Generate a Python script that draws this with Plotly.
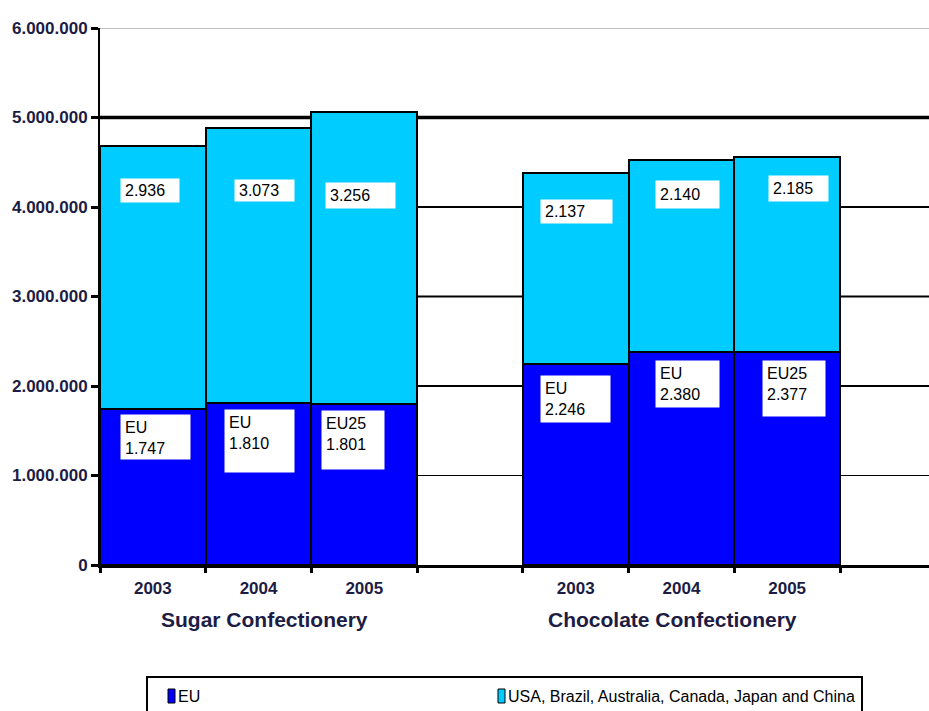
import plotly.graph_objects as go

# ---------------- data ----------------
groups = ["Sugar Confectionery", "Chocolate Confectionery"]
years = ["2003", "2004", "2005"]
eu_values = [1747000, 1810000, 1801000, 2246000, 2380000, 2377000]
other_values = [2936000, 3073000, 3256000, 2137000, 2140000, 2185000]
eu_tags = ["EU", "EU", "EU25", "EU", "EU", "EU25"]
series_names = ["EU", "USA, Brazil, Australia, Canada, Japan and China"]
y_tick_values = [0, 1000000, 2000000, 3000000, 4000000, 5000000, 6000000]

# ---------------- style ----------------
W, H = 929, 711
ML, MR, MT, MB = 100, 0, 28, 146
PW, PH = W - ML - MR, H - MT - MB
C_EU = "#0000FF"
C_OTHER = "#00CCFF"
AXIS_TXT = "#1c1c44"
FONT = "Liberation Sans, Arial, sans-serif"

# label box styling (pixel offsets from bar left / segment top, box sizes)
other_dx = [20, 28, 14, 17, 26, 34]
other_dy = [32, 51, 70, 26, 20, 18]
other_w = [58, 59, 69, 71, 63, 59]
other_h = [23, 21, 25, 23, 27, 25]
eu_dx = [20, 18, 10, 17, 26, 28]
eu_dy = [5, 6, 6, 11, 8, 8]
eu_w = [69, 69, 62, 69, 63, 62]
eu_h = [44, 62, 58, 46, 46, 55]
grid_widths = [0, 1, 2, 2, 2, 3.5, 1]
grid_colors = ["black", "black", "black", "black", "black", "black", "#808080"]
group_shift = [6, -9]


def px_x(px):
    return (px - ML) / PW


def px_y(py):
    return (H - MB - py) / PH


def fmt(v):
    return f"{v // 1000:,}".replace(",", ".")


slots = [g * 4 + i for g in range(len(groups)) for i in range(len(years))]
boundaries = sorted(set([s - 0.5 for s in slots] + [s + 0.5 for s in slots]))
year_labels = years * len(groups)

fig = go.Figure()
fig.add_trace(go.Bar(x=slots, y=eu_values, name=series_names[0], width=1,
                     marker=dict(color=C_EU, line=dict(color="black", width=2)),
                     showlegend=False, hoverinfo="y"))
fig.add_trace(go.Bar(x=slots, y=other_values, name=series_names[1], width=1,
                     marker=dict(color=C_OTHER, line=dict(color="black", width=2)),
                     showlegend=False, hoverinfo="y"))

shapes = []
for v, w, c in zip(y_tick_values, grid_widths, grid_colors):
    if v == 0:
        continue
    shapes.append(dict(type="line", xref="paper", yref="y", x0=0, x1=1, y0=v, y1=v,
                       line=dict(color=c, width=w), layer="below"))

annotations = []
for k, s in enumerate(slots):
    top = eu_values[k] + other_values[k]
    annotations.append(dict(
        x=s - 0.5, y=top, xref="x", yref="y", xanchor="left", yanchor="top",
        xshift=other_dx[k], yshift=-other_dy[k],
        text=fmt(other_values[k]), showarrow=False, align="left", valign="middle",
        width=other_w[k] - 8, height=other_h[k] - 8, borderpad=4, bgcolor="white",
        font=dict(family=FONT, size=16, color="black")))
    annotations.append(dict(
        x=s - 0.5, y=eu_values[k], xref="x", yref="y", xanchor="left", yanchor="top",
        xshift=eu_dx[k], yshift=-eu_dy[k],
        text=eu_tags[k] + "<br>" + fmt(eu_values[k]), showarrow=False, align="left",
        valign="top", width=eu_w[k] - 8, height=eu_h[k] - 8, borderpad=4,
        bgcolor="white", font=dict(family=FONT, size=16, color="black")))

for g, name in enumerate(groups):
    gs = slots[g * len(years):(g + 1) * len(years)]
    annotations.append(dict(
        x=sum(gs) / len(gs), y=px_y(619), xref="x", yref="paper",
        xanchor="center", yanchor="middle", xshift=group_shift[g],
        text=name, showarrow=False,
        font=dict(family=FONT, size=21, color=AXIS_TXT, weight="bold")))

# manual legend
shapes.append(dict(type="rect", xref="paper", yref="paper",
                   x0=px_x(147), x1=px_x(862), y0=px_y(677), y1=px_y(720),
                   line=dict(color="black", width=2), fillcolor="white"))
legend_x = [168, 498]
legend_colors = [C_EU, C_OTHER]
for name, lx, col in zip(series_names, legend_x, legend_colors):
    shapes.append(dict(type="rect", xref="paper", yref="paper",
                       x0=px_x(lx), x1=px_x(lx + 7), y0=px_y(689), y1=px_y(703),
                       line=dict(color="black", width=1), fillcolor=col))
    annotations.append(dict(
        x=px_x(lx + 8), y=px_y(696), xref="paper", yref="paper",
        xanchor="left", yanchor="middle", text=name, showarrow=False,
        font=dict(family=FONT, size=16, color="black")))

fig.update_layout(
    width=W, height=H,
    margin=dict(l=ML, r=MR, t=MT, b=MB, autoexpand=False),
    paper_bgcolor="white", plot_bgcolor="white",
    barmode="stack", bargap=0,
    showlegend=False,
    shapes=shapes, annotations=annotations,
    xaxis=dict(range=[-0.5, -0.5 + PW / ((840 - 100) / 7)],
               tickmode="array", tickvals=slots, ticktext=year_labels,
               ticks="", showgrid=False, zeroline=False,
               showline=True, linecolor="black", linewidth=3,
               ticklabelstandoff=6,
               tickfont=dict(family=FONT, size=17, color=AXIS_TXT, weight="bold"),
               minor=dict(tickmode="array", tickvals=boundaries, ticks="outside",
                          ticklen=5, tickwidth=3, tickcolor="black", showgrid=False),
               fixedrange=True),
    yaxis=dict(range=[0, 6000000], tickmode="array", tickvals=y_tick_values,
               ticktext=[fmt(v * 1000) if v else "0" for v in y_tick_values],
               ticks="outside", ticklen=7, tickwidth=3, tickcolor="black",
               showgrid=False, zeroline=False,
               showline=True, linecolor="black", linewidth=2,
               tickfont=dict(family=FONT, size=17, color=AXIS_TXT, weight="bold"),
               fixedrange=True),
)

fig.write_html(
    "out.html",
    config={"displayModeBar": False},
    post_script="document.body.style.margin='0px';document.body.style.padding='0px';",
)
